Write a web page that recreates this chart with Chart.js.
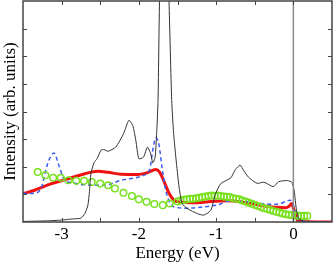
<!DOCTYPE html>
<html>
<head>
<meta charset="utf-8">
<script src="https://cdn.jsdelivr.net/npm/chart.js@4.4.1/dist/chart.umd.min.js"></script>
<style>
    html, body { margin: 0; padding: 0; background: #fff; }
    #wrap { width: 333px; height: 264px; }
</style>
</head>
<body>
<div id="wrap"><canvas id="myChart" width="333" height="264"></canvas></div>
<script>
// Energy axis ticks
const xTicks = [-3, -2, -1, 0];

// Black thin curve (calculated DOS)
const blackE = [-3.5, -3.2, -3.0, -2.9, -2.8, -2.75, -2.7, -2.66, -2.64, -2.62, -2.58, -2.54, -2.49, -2.45, -2.4, -2.3, -2.2, -2.13, -2.08, -2.04, -2.0, -1.94, -1.89, -1.85, -1.82, -1.79, -1.77, -1.752, -1.72, -1.68, -1.63, -1.61, -1.575, -1.55, -1.52, -1.48, -1.44, -1.37, -1.24, -1.16, -1.07, -1.01, -0.94, -0.81, -0.75, -0.69, -0.64, -0.58, -0.47, -0.38, -0.26, -0.19, -0.08, -0.02, 0.01, 0.04, 0.07, 0.14, 0.5];
const blackI = [0.02, 0.04, 0.07, 0.1, 0.12, 0.14, 0.3, 0.61, 1.1, 1.76, 2.15, 2.3, 2.6, 2.62, 2.56, 2.71, 3.19, 3.68, 3.5, 2.96, 2.29, 2.35, 2.71, 2.5, 2.14, 2.35, 3.2, 4.4, 10, 11, 10, 8, 4.4, 3.2, 2.3, 1.27, 0.67, 0.48, 0.3, 0.25, 0.42, 1.0, 1.39, 1.6, 1.9, 2.06, 1.85, 1.62, 1.4, 1.44, 1.28, 1.46, 1.5, 1.44, 1.14, 0.43, 0.13, 0.02, 0.0];

// Blue dashed curve
const blueE = [-3.5, -3.33, -3.26, -3.18, -3.1, -3.03, -2.96, -2.85, -2.75, -2.45, -2.23, -1.94, -1.86, -1.82, -1.78, -1.74, -1.70, -1.65, -1.59, -1.55, -1.37, -1.16, -0.94, -0.86, -0.64, -0.43, -0.21, -0.04, 0.0, 0.04, 0.09, 0.5];
const blueI = [1.03, 1.05, 1.27, 2.12, 2.5, 2.0, 1.51, 1.42, 1.36, 1.33, 1.51, 1.69, 1.9, 2.6, 3.05, 2.8, 1.96, 1.12, 0.65, 0.55, 0.5, 0.55, 0.65, 0.75, 0.74, 0.67, 0.64, 0.79, 0.6, 0.18, 0.04, 0.0];

// Red thick curve
const redE = [-3.5, -3.35, -3.14, -2.92, -2.71, -2.53, -2.4, -2.23, -2.02, -1.9, -1.78, -1.73, -1.68, -1.61, -1.55, -1.48, -1.3, -1.1, -0.86, -0.64, -0.43, -0.21, -0.1, -0.06, -0.02, 0.0, 0.02, 0.05, 0.1, 0.5];
const redI = [1.02, 1.15, 1.38, 1.56, 1.74, 1.84, 1.8, 1.73, 1.72, 1.78, 1.9, 1.8, 1.51, 1.04, 0.8, 0.72, 0.7, 0.73, 0.77, 0.71, 0.61, 0.53, 0.52, 0.56, 0.67, 0.5, 0.32, 0.07, 0.02, 0.0];

// Green open circles (experiment)
const greenE = [-3.31, -3.21, -3.11, -3.01, -2.91, -2.81, -2.71, -2.61, -2.5, -2.4, -2.31, -2.2, -2.09, -2.0, -1.9, -1.8, -1.69, -1.6,
    -1.50, -1.46, -1.42, -1.38, -1.34, -1.30, -1.26, -1.22, -1.18, -1.14, -1.10, -1.06, -1.02, -0.98, -0.94, -0.90, -0.86, -0.82, -0.78, -0.74, -0.70, -0.66, -0.62, -0.58, -0.54, -0.50, -0.46, -0.42, -0.38, -0.34, -0.30, -0.26, -0.22, -0.18, -0.14, -0.10, -0.06, -0.02, 0.02, 0.06, 0.10, 0.14, 0.18];
const greenI = [1.81, 1.69, 1.6, 1.6, 1.51, 1.49, 1.49, 1.45, 1.39, 1.33, 1.21, 1.06, 0.94, 0.82, 0.73, 0.65, 0.61, 0.67,
    0.74, 0.78, 0.80, 0.82, 0.84, 0.84, 0.86, 0.88, 0.90, 0.92, 0.94, 0.96, 0.95, 0.96, 0.94, 0.92, 0.91, 0.90, 0.86, 0.84, 0.82, 0.78, 0.74, 0.70, 0.66, 0.62, 0.58, 0.54, 0.50, 0.47, 0.44, 0.40, 0.37, 0.34, 0.31, 0.28, 0.26, 0.25, 0.24, 0.23, 0.22, 0.22, 0.22];

// Fermi level marker
const fermiE = [0, 0];
const fermiI = [0, 8];

function pts(xs, ys) {
    return xs.map((x, i) => ({ x: x, y: ys[i] }));
}

// Frame with inward ticks on all four sides
const frameTicks = {
    id: 'frameTicks',
    afterDraw(chart) {
        const ctx = chart.ctx;
        const a = chart.chartArea;
        const xs = chart.scales.x;
        const ys = chart.scales.y;
        ctx.save();
        ctx.strokeStyle = '#444';
        ctx.lineWidth = 1.5;
        ctx.strokeRect(a.left, a.top, a.right - a.left, a.bottom - a.top);
        ctx.lineWidth = 1;
        ctx.beginPath();
        for (let v = -3; v <= 0.01; v += 0.5) {
            const px = Math.round(xs.getPixelForValue(v)) + 0.5;
            ctx.moveTo(px, a.bottom); ctx.lineTo(px, a.bottom - 4);
            ctx.moveTo(px, a.top); ctx.lineTo(px, a.top + 4);
        }
        for (let v = 1; v < 8; v++) {
            const py = Math.round(ys.getPixelForValue(v)) + 0.5;
            ctx.moveTo(a.left, py); ctx.lineTo(a.left + 4, py);
            ctx.moveTo(a.right, py); ctx.lineTo(a.right - 4, py);
        }
        ctx.stroke();
        ctx.restore();
    }
};

const ctx = document.getElementById('myChart').getContext('2d');
new Chart(ctx, {
    type: 'line',
    data: {
        datasets: [{
            data: pts(fermiE, fermiI),
            borderColor: '#8a8a8a',
            borderWidth: 1.5,
            pointRadius: 0
        }, {
            data: pts(blackE, blackI),
            borderColor: '#333',
            borderWidth: 1,
            pointRadius: 0,
            tension: 0.2
        }, {
            type: 'scatter',
            data: pts(greenE, greenI),
            showLine: false,
            pointRadius: 3.3,
            pointBorderWidth: 1.5,
            pointBorderColor: '#7ae020',
            pointBackgroundColor: 'rgba(0,0,0,0)'
        }, {
            data: pts(blueE, blueI),
            borderColor: '#3a5cf0',
            borderWidth: 1.5,
            borderDash: [4, 3],
            pointRadius: 0,
            cubicInterpolationMode: 'monotone'
        }, {
            data: pts(redE, redI),
            borderColor: '#f01010',
            borderWidth: 3,
            pointRadius: 0,
            cubicInterpolationMode: 'monotone'
        }]
    },
    options: {
        responsive: false,
        animation: false,
        events: [],
        layout: { autoPadding: false, padding: { top: 1, right: 1, left: 0, bottom: 0 } },
        plugins: {
            legend: { display: false },
            tooltip: { enabled: false }
        },
        scales: {
            x: {
                type: 'linear',
                min: -3.5,
                max: 0.5,
                grid: { display: false, drawTicks: false },
                border: { display: false },
                afterBuildTicks: (s) => { s.ticks = xTicks.map(v => ({ value: v })); },
                afterFit: (s) => {
                    s.height = 42;
                    s.paddingLeft = 0;
                    s.paddingRight = 0;
                },
                ticks: {
                    color: '#000',
                    padding: 2,
                    maxRotation: 0,
                    font: { family: 'Liberation Serif', size: 17 }
                },
                title: {
                    display: true,
                    text: 'Energy (eV)',
                    color: '#000',
                    padding: { top: 0, bottom: 0 },
                    font: { family: 'Liberation Serif', size: 17 }
                }
            },
            y: {
                min: 0,
                max: 8,
                grid: { display: false, drawTicks: false },
                border: { display: false },
                ticks: { display: false },
                afterFit: (s) => {
                    s.width = 23;
                    s.paddingTop = 0;
                    s.paddingBottom = 0;
                },
                title: {
                    display: true,
                    text: 'Intensity (arb. units)',
                    color: '#000',
                    padding: { top: 0, bottom: 0 },
                    font: { family: 'Liberation Serif', size: 17 }
                }
            }
        }
    },
    plugins: [frameTicks]
});
</script>
</body>
</html>
